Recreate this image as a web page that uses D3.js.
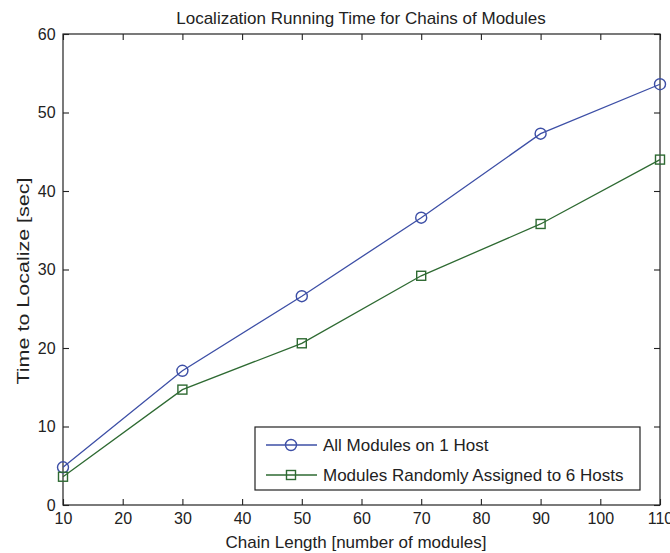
<!DOCTYPE html>
<html><head><meta charset="utf-8">
<script src="https://cdn.jsdelivr.net/npm/d3@7"></script>
<style>body{margin:0;background:#fff}svg{display:block}text{font-family:"Liberation Sans",Arial,sans-serif;fill:#222}</style>
</head><body>
<svg id="c" width="670" height="553"></svg>
<script>
const chainLengths = [10, 30, 50, 70, 90, 110];
const oneHost = [4.8, 17.1, 26.6, 36.6, 47.3, 53.6];
const sixHosts = [3.6, 14.7, 20.6, 29.2, 35.8, 44.0];
const xTicks = [10, 20, 30, 40, 50, 60, 70, 80, 90, 100, 110];
const yTicks = [0, 10, 20, 30, 40, 50, 60];
const seriesNames = ["All Modules on 1 Host", "Modules Randomly Assigned to 6 Hosts"];

const svg = d3.select("#c");
const L = 63, R = 660, T = 34, B = 505;
const x = d3.scaleLinear().domain([10, 110]).range([L, R]);
const y = d3.scaleLinear().domain([0, 60]).range([B, T]);
const ink = "#222";
const blue = "#3d4fa6", green = "#2e6a32";

svg.append("rect").attr("x", L).attr("y", T).attr("width", R - L).attr("height", B - T)
  .attr("fill", "none").attr("stroke", ink).attr("stroke-width", 1.2);

const tl = 6;
const xb = svg.append("g").attr("transform", `translate(0,${B})`)
  .call(d3.axisBottom(x).tickValues(xTicks).tickSize(-tl).tickPadding(10).tickFormat(d3.format("d")));
const xt = svg.append("g").attr("transform", `translate(0,${T})`)
  .call(d3.axisTop(x).tickValues(xTicks).tickSize(-tl).tickFormat(""));
const yl = svg.append("g").attr("transform", `translate(${L},0)`)
  .call(d3.axisLeft(y).tickValues(yTicks).tickSize(-tl).tickPadding(9).tickFormat(d3.format("d")));
const yr = svg.append("g").attr("transform", `translate(${R},0)`)
  .call(d3.axisRight(y).tickValues(yTicks).tickSize(-tl).tickFormat(""));
[xb, xt, yl, yr].forEach(g => {
  g.select(".domain").remove();
  g.selectAll(".tick line").attr("stroke", ink).attr("stroke-width", 1.1);
  g.selectAll("text").attr("font-size", 16).attr("fill", ink)
   .attr("font-family", '"Liberation Sans",Arial,sans-serif');
});
xb.selectAll("text").attr("dy", "0.55em");
yl.selectAll("text").attr("dx", "0.1em");

const line = d3.line().x((d, i) => x(chainLengths[i])).y(d => y(d));
svg.append("path").datum(oneHost).attr("d", line).attr("fill", "none").attr("stroke", blue).attr("stroke-width", 1.3);
svg.append("path").datum(sixHosts).attr("d", line).attr("fill", "none").attr("stroke", green).attr("stroke-width", 1.3);
svg.selectAll("circle.m").data(oneHost).enter().append("circle").attr("class", "m")
  .attr("cx", (d, i) => x(chainLengths[i])).attr("cy", d => y(d)).attr("r", 5.5)
  .attr("fill", "none").attr("stroke", blue).attr("stroke-width", 1.4);
svg.selectAll("rect.m").data(sixHosts).enter().append("rect").attr("class", "m")
  .attr("x", (d, i) => x(chainLengths[i]) - 4.5).attr("y", d => y(d) - 4.5).attr("width", 9).attr("height", 9)
  .attr("fill", "none").attr("stroke", green).attr("stroke-width", 1.4);

const lg = svg.append("g");
lg.append("rect").attr("x", 255).attr("y", 427).attr("width", 385).attr("height", 63)
  .attr("fill", "#fff").attr("stroke", ink).attr("stroke-width", 1.2);
[[blue, 445], [green, 475]].forEach(([c, yy], i) => {
  lg.append("line").attr("x1", 266).attr("x2", 317).attr("y1", yy).attr("y2", yy).attr("stroke", c).attr("stroke-width", 1.3);
  if (i === 0) lg.append("circle").attr("cx", 291).attr("cy", yy).attr("r", 5.5).attr("fill", "none").attr("stroke", c).attr("stroke-width", 1.4);
  else lg.append("rect").attr("x", 286.5).attr("y", yy - 4.5).attr("width", 9).attr("height", 9).attr("fill", "none").attr("stroke", c).attr("stroke-width", 1.4);
  lg.append("text").attr("x", 323).attr("y", yy).attr("dy", "0.35em").attr("font-size", 17).text(seriesNames[i]);
});

svg.append("text").attr("x", 361).attr("y", 24).attr("text-anchor", "middle").attr("font-size", 17).text("Localization Running Time for Chains of Modules");
svg.append("text").attr("x", 356).attr("y", 548).attr("text-anchor", "middle").attr("font-size", 17).text("Chain Length [number of modules]");
svg.append("text").attr("transform", "translate(29,281) rotate(-90)").attr("text-anchor", "middle").attr("font-size", 17)
  .attr("textLength", 207).attr("lengthAdjust", "spacingAndGlyphs").text("Time to Localize [sec]");
</script>
</body></html>
